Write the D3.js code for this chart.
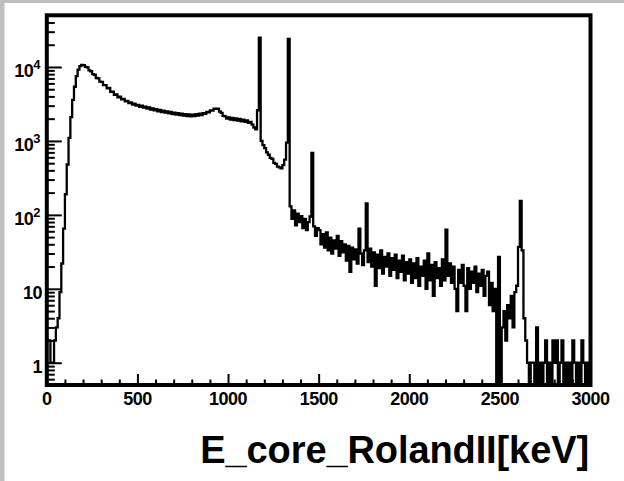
<!DOCTYPE html>
<html>
<head>
<meta charset="utf-8">
<script src="https://cdn.jsdelivr.net/npm/d3@7"></script>
<style>
  html, body { margin: 0; padding: 0; background: #bfbfbf; }
  svg { display: block; }
  text { font-family: "Liberation Sans", Arial, Helvetica, sans-serif; font-weight: bold; fill: #000; }
</style>
</head>
<body>
<svg id="chart" width="624" height="481"></svg>
<script>
// Energy spectrum of the core channel, 10 keV bins, counts per bin.
const binWidth = 10;
const counts0to500 = [
  2, 2, 1, 1, 2, 3, 4, 9, 22, 65,
  190, 480, 1100, 2100, 3600, 5400, 7500, 9200, 10300, 10700,
  10600, 10050, 9850, 9000, 8750, 8000, 7850, 7100, 7000, 6350,
  6300, 5700, 5700, 5150, 5200, 4620, 4650, 4200, 4250, 3880,
  3960, 3640, 3700, 3420, 3490, 3250, 3320, 3100, 3180, 3000
];
const counts500to1000 = [
  3060, 2900, 2990, 2820, 2910, 2740, 2830, 2660, 2750, 2590,
  2680, 2520, 2620, 2460, 2560, 2420, 2510, 2360, 2460, 2310,
  2410, 2270, 2370, 2230, 2340, 2200, 2300, 2170, 2290, 2150,
  2270, 2170, 2300, 2200, 2330, 2240, 2380, 2320, 2460, 2430,
  2590, 2580, 2740, 2720, 2730, 2500, 2400, 2180, 2150, 2010
];
const counts1000to1500 = [
  2080, 1950, 2050, 1910, 2010, 1880, 1980, 1840, 1940, 1810,
  1900, 1760, 1810, 1660, 1520, 1430, 2600, 25000, 1000, 880,
  800, 700, 650, 590, 570, 505, 490, 450, 440, 425,
  470, 560, 950, 24000, 130, 88, 115, 72, 104, 80,
  96, 66, 88, 62, 80, 95, 690, 70, 52, 66
];
const counts1500to2000 = [
  62, 40, 55, 36, 58, 33, 49, 30, 45, 35,
  52, 28, 44, 31, 40, 24, 38, 17, 36, 25,
  34, 22, 65, 30, 21, 33, 143, 23, 35, 20,
  31, 11, 29, 19, 33, 16, 27, 20, 30, 15,
  26, 18, 29, 14, 24, 17, 28, 13, 23, 16
];
const counts2000to2500 = [
  25, 12, 22, 14, 26, 11, 20, 15, 24, 10,
  30, 13, 21, 8, 23, 14, 19, 11, 25, 13,
  63, 15, 22, 12, 20, 10, 5, 18, 12, 21,
  11, 5, 19, 10, 17, 12, 20, 9, 16, 11,
  18, 8, 15, 17, 6, 12, 5, 10, 0, 27
];
const counts2500to3000 = [
  0, 3, 5, 2, 6, 4, 8, 3, 9, 11,
  37, 154, 33, 4, 2, 1, 0, 1, 1, 0,
  3, 0, 1, 0, 1, 2, 0, 1, 0, 2,
  1, 2, 0, 1, 2, 0, 1, 0, 1, 0,
  2, 1, 0, 1, 0, 2, 1, 0, 1, 0
];
const counts = [].concat(counts0to500, counts500to1000, counts1000to1500,
                         counts1500to2000, counts2000to2500, counts2500to3000);

const xTickValues = [0, 500, 1000, 1500, 2000, 2500, 3000];
const xTickLabels = ["0", "500", "1000", "1500", "2000", "2500", "3000"];
const yTickValues = [1, 10, 100, 1000, 10000];
const yTickBases = ["1", "10", "10", "10", "10"];
const yTickExponents = ["", "", "2", "3", "4"];
const xTitle = "E_core_RolandII[keV]";

const svg = d3.select("#chart");
const W = 624, H = 481;
const frame = { left: 46.8, right: 590.5, top: 15.3, bottom: 385 };

// canvas (white pad on grey window)
svg.append("rect").attr("x", 4.5).attr("y", 3).attr("width", W - 4.5).attr("height", H - 3).attr("fill", "#fff");

const x = d3.scaleLinear().domain([0, 3000]).range([frame.left, frame.right]);
const yMin = 0.5, yMax = 50000;
const y = d3.scaleLog().domain([yMin, yMax]).range([frame.bottom, frame.top]).clamp(true);

svg.append("clipPath").attr("id", "plotClip")
  .append("rect")
  .attr("x", frame.left).attr("y", frame.top)
  .attr("width", frame.right - frame.left).attr("height", frame.bottom - frame.top);

// histogram outline as steps; empty bins drop to the bottom of the frame
const steps = counts.flatMap((c, i) => [[i * binWidth, c], [(i + 1) * binWidth, c]]);
const line = d3.line().x(d => x(d[0])).y(d => y(Math.max(d[1], yMin)));
svg.append("path")
  .attr("clip-path", "url(#plotClip)")
  .attr("d", line(steps))
  .attr("fill", "none")
  .attr("stroke", "#000")
  .attr("stroke-width", 2.3)
  .attr("stroke-linejoin", "miter");

// ticks (inward, ROOT style)
function styleTicks(g) {
  g.select(".domain").remove();
  g.selectAll(".tick line").attr("stroke", "#000").attr("stroke-width", 2);
  g.selectAll(".tick text").remove();
}
const xMinor = d3.range(0, 3001, 100).filter(v => v % 500 !== 0);
svg.append("g").attr("transform", `translate(0,${frame.bottom})`)
  .call(d3.axisBottom(x).tickValues(xTickValues).tickSizeInner(-11).tickSizeOuter(0).tickFormat(""))
  .call(styleTicks);
svg.append("g").attr("transform", `translate(0,${frame.bottom})`)
  .call(d3.axisBottom(x).tickValues(xMinor).tickSizeInner(-5.5).tickSizeOuter(0).tickFormat(""))
  .call(styleTicks);

const yMinor = [];
[-1, 0, 1, 2, 3, 4].forEach(p => d3.range(2, 10).forEach(m => {
  const v = m * Math.pow(10, p);
  if (v >= yMin && v < yMax) yMinor.push(v);
}));
svg.append("g").attr("transform", `translate(${frame.left},0)`)
  .call(d3.axisLeft(y).tickValues(yTickValues).tickSizeInner(-15).tickSizeOuter(0).tickFormat(""))
  .call(styleTicks);
svg.append("g").attr("transform", `translate(${frame.left},0)`)
  .call(d3.axisLeft(y).tickValues(yMinor).tickSizeInner(-8).tickSizeOuter(0).tickFormat(""))
  .call(styleTicks);

// frame
svg.append("rect")
  .attr("x", frame.left).attr("y", frame.top)
  .attr("width", frame.right - frame.left).attr("height", frame.bottom - frame.top)
  .attr("fill", "none").attr("stroke", "#000").attr("stroke-width", 4);

// x tick labels
svg.append("g").selectAll("text").data(xTickValues).join("text")
  .attr("x", d => x(d)).attr("y", 405)
  .attr("text-anchor", "middle")
  .attr("font-size", 18)
  .attr("letter-spacing", -0.5)
  .text((d, i) => xTickLabels[i]);

// y tick labels with powers of ten
const yl = svg.append("g").selectAll("text").data(yTickValues).join("text")
  .attr("text-anchor", "end")
  .attr("font-size", 18)
  .attr("letter-spacing", -0.5)
  .attr("x", (d, i) => yTickExponents[i] ? 40 : 42)
  .attr("y", d => y(d) + 10.5);
yl.append("tspan").text((d, i) => yTickBases[i]);
yl.filter((d, i) => yTickExponents[i] !== "")
  .append("tspan")
  .attr("font-size", 13)
  .attr("dy", -8)
  .text(d => yTickExponents[yTickValues.indexOf(d)]);

// axis title
svg.append("text")
  .attr("x", 589).attr("y", 463)
  .attr("text-anchor", "end")
  .attr("font-size", 38)
  .attr("letter-spacing", -0.1)
  .text(xTitle);
</script>
</body>
</html>
